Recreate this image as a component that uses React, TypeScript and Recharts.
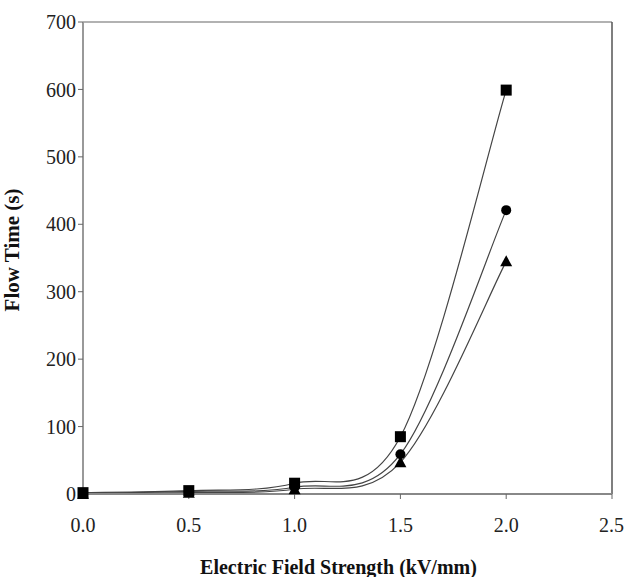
import React from "react";
import { LineChart, Line, XAxis, YAxis, ReferenceLine } from "recharts";

const fieldStrength = [0, 0.5, 1.0, 1.5, 2.0];
const squareSeries = [2, 5, 16, 85, 599];
const circleSeries = [1, 4, 10, 59, 421];
const triangleSeries = [0, 2, 7, 47, 345];
const xTicks = [0, 0.5, 1.0, 1.5, 2.0, 2.5];
const yTicks = [0, 100, 200, 300, 400, 500, 600, 700];

const data = fieldStrength.map((x, i) => ({
  x,
  sq: squareSeries[i],
  ci: circleSeries[i],
  tr: triangleSeries[i],
}));

// Excel-style smoothed line (Catmull-Rom like Bezier)
function smoothCurve(context: any) {
  let pts: number[][] = [];
  return {
    areaStart() {},
    areaEnd() {},
    lineStart() {
      pts = [];
    },
    point(x: number, y: number) {
      pts.push([+x, +y]);
    },
    lineEnd() {
      if (!pts.length) return;
      context.moveTo(pts[0][0], pts[0][1]);
      for (let i = 0; i < pts.length - 1; i++) {
        const p0 = pts[i - 1] || pts[i];
        const p1 = pts[i];
        const p2 = pts[i + 1];
        const p3 = pts[i + 2] || pts[i + 1];
        const c1x = p1[0] + (p2[0] - p0[0]) / 6;
        const c1y = p1[1] + (p2[1] - p0[1]) / 6;
        const c2x = p2[0] - (p3[0] - p1[0]) / 6;
        const c2y = p2[1] - (p3[1] - p1[1]) / 6;
        context.bezierCurveTo(c1x, c1y, c2x, c2y, p2[0], p2[1]);
      }
    },
  };
}

const SquareDot = (props: any) => {
  const { cx, cy, index } = props;
  if (cx == null || cy == null) return <g key={index} />;
  return <rect key={index} x={cx - 5.5} y={cy - 5.5} width={11} height={11} fill="#000" />;
};
const CircleDot = (props: any) => {
  const { cx, cy, index } = props;
  if (cx == null || cy == null) return <g key={index} />;
  return <circle key={index} cx={cx} cy={cy} r={5} fill="#000" />;
};
const TriangleDot = (props: any) => {
  const { cx, cy, index } = props;
  if (cx == null || cy == null) return <g key={index} />;
  return (
    <polygon
      key={index}
      points={`${cx},${cy - 6} ${cx + 6},${cy + 5} ${cx - 6},${cy + 5}`}
      fill="#000"
    />
  );
};

const font = "'Liberation Serif', 'Times New Roman', serif";
const tickStyle = { fontFamily: font, fontSize: 20, fill: "#222" };

export default function App() {
  return (
    <div style={{ position: "absolute", left: 0, top: 0, background: "#fff" }}>
      <LineChart
        width={624}
        height={577}
        data={data}
        margin={{ top: 22, right: 12, left: 0, bottom: 0 }}
      >
        <XAxis
          dataKey="x"
          type="number"
          domain={[0, 2.5]}
          ticks={xTicks}
          tickFormatter={(v: number) => v.toFixed(1)}
          height={83}
          tickSize={5}
          tickMargin={19}
          tick={tickStyle}
          axisLine={{ stroke: "#888", strokeWidth: 2 }}
          tickLine={{ stroke: "#666" }}
          label={{
            value: "Electric Field Strength (kV/mm)",
            position: "insideBottom",
            offset: 3,
            dx: -9,
            style: { fontFamily: font, fontSize: 20, fontWeight: "bold", fill: "#111" },
          }}
        />
        <YAxis
          type="number"
          domain={[0, 700]}
          ticks={yTicks}
          width={83}
          tickSize={5}
          tickMargin={2}
          tick={tickStyle}
          axisLine={{ stroke: "#999", strokeWidth: 2 }}
          tickLine={{ stroke: "#666" }}
          label={{
            value: "Flow Time (s)",
            angle: -90,
            position: "insideLeft",
            offset: 12,
            dy: -8,
            style: { fontFamily: font, fontSize: 21, fontWeight: "bold", fill: "#111", textAnchor: "middle" },
          }}
        />
        <ReferenceLine y={700} stroke="#999" strokeWidth={1.5} />
        <ReferenceLine x={2.5} stroke="#555" strokeWidth={1.5} />
        <Line
          dataKey="tr"
          type={smoothCurve as any}
          stroke="#444"
          strokeWidth={1.2}
          dot={TriangleDot}
          activeDot={false}
          isAnimationActive={false}
        />
        <Line
          dataKey="ci"
          type={smoothCurve as any}
          stroke="#444"
          strokeWidth={1.2}
          dot={CircleDot}
          activeDot={false}
          isAnimationActive={false}
        />
        <Line
          dataKey="sq"
          type={smoothCurve as any}
          stroke="#444"
          strokeWidth={1.2}
          dot={SquareDot}
          activeDot={false}
          isAnimationActive={false}
        />
      </LineChart>
    </div>
  );
}
